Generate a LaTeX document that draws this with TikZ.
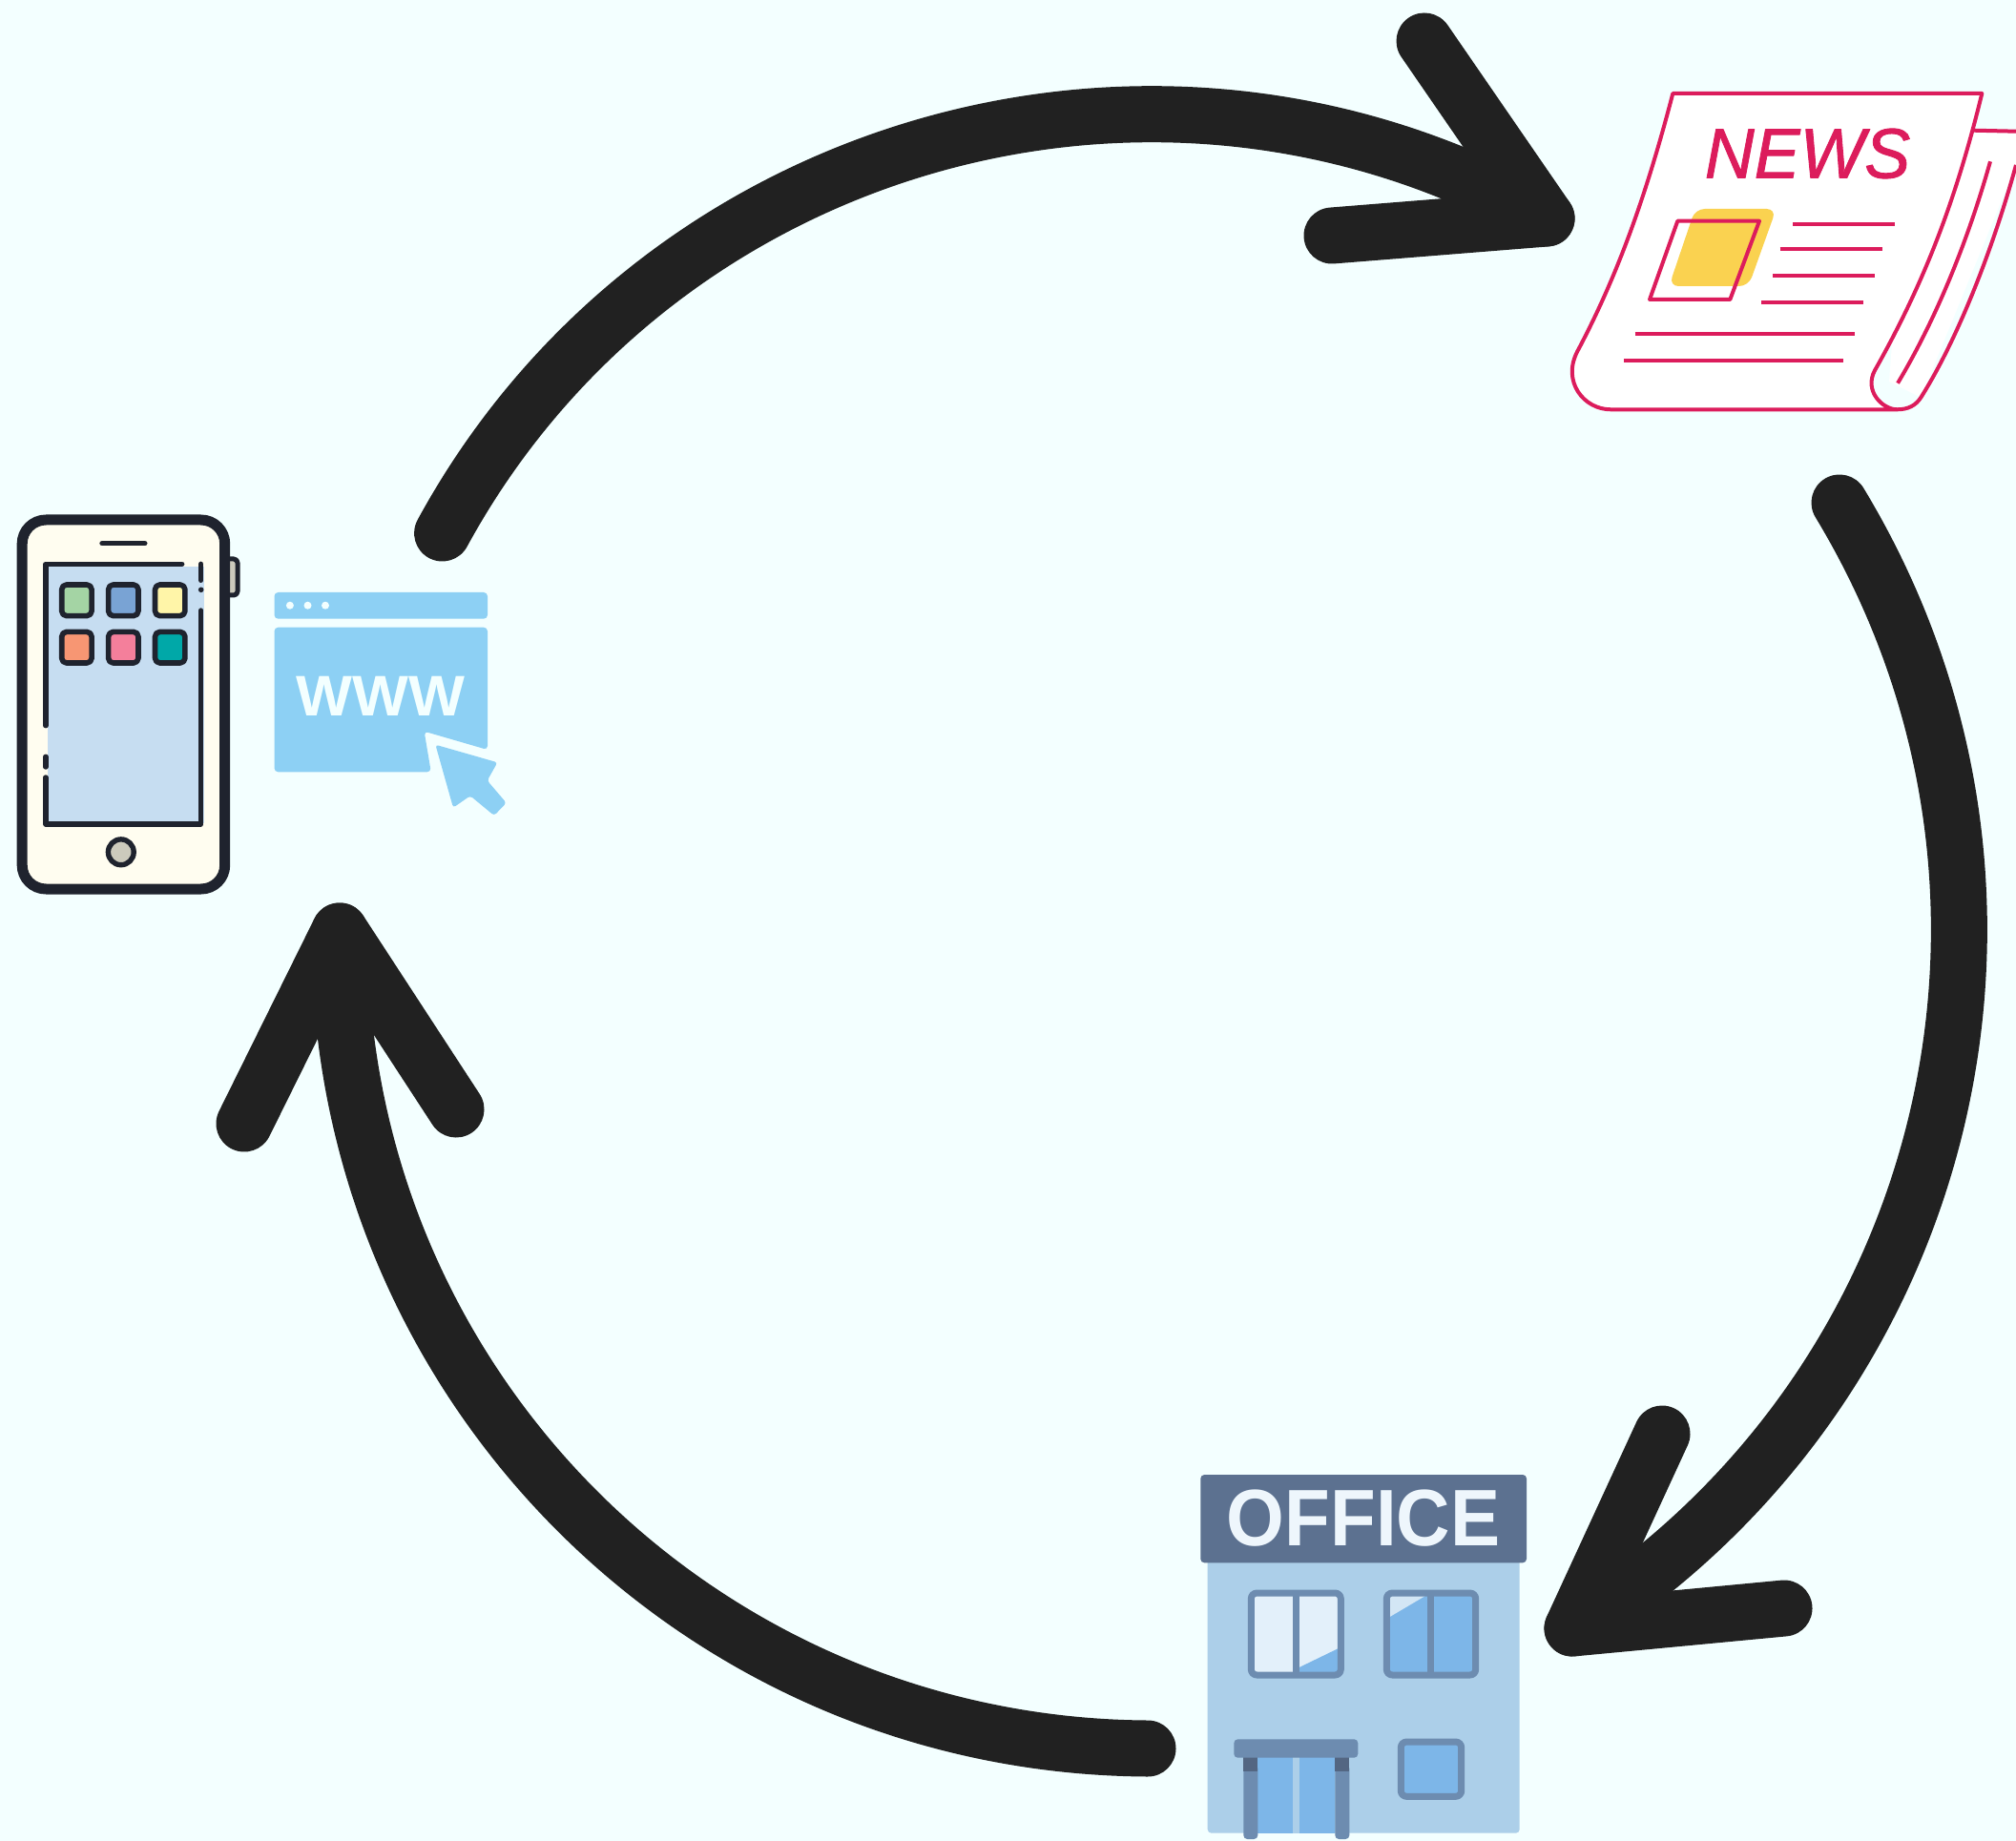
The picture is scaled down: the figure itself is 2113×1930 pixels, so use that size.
\documentclass[tikz,border=0pt]{standalone}
\usepackage{fontspec}
\setmainfont{Liberation Sans}
\definecolor{paperbg}{HTML}{F3FFFF}
\definecolor{arrowink}{HTML}{212121}
\definecolor{phoneink}{HTML}{1F232E}
\definecolor{phonecream}{HTML}{FFFDF0}
\definecolor{phonegrey}{HTML}{CCCABC}
\definecolor{screenblue}{HTML}{C6DDF1}
\definecolor{webblue}{HTML}{8DD0F4}
\definecolor{newsred}{HTML}{DC1C5C}
\definecolor{newsyellow}{HTML}{FAD250}
\definecolor{officeslate}{HTML}{5C7190}
\definecolor{officewall}{HTML}{ACCFE9}
\definecolor{officeframe}{HTML}{6D8CB0}
\definecolor{officeglass}{HTML}{7DB6E8}
\definecolor{officepale}{HTML}{E3F0FA}
\definecolor{appgreen}{HTML}{A4D4A4}
\definecolor{appblue}{HTML}{79A3D4}
\definecolor{appyellow}{HTML}{FFF5A8}
\definecolor{apporange}{HTML}{F79673}
\definecolor{apppink}{HTML}{F47F9B}
\definecolor{appteal}{HTML}{00A8A8}
\newcommand{\pxUnit}[0]{0.5pt}

\begin{document}
\begin{tikzpicture}[x=\pxUnit, y=-\pxUnit, line join=round]
  \tikzset{
    flowline/.style={draw=arrowink,line width=29.5pt,line cap=round},
    phoneline/.style={draw=phoneink,line width=2.7pt,line cap=round},
    newsline/.style={draw=newsred,line width=2pt},
    frameline/.style={draw=officeframe,line width=3.5pt,rounded corners=3pt}
  }
  \useasboundingbox (0,0) rectangle (2113,1930);
  \fill[paperbg] (0,0) rectangle (2113,1930);

  % phone
  \draw[draw=phoneink,fill=phonegrey,line width=2.5pt,rounded corners=2pt] (232,586) rectangle (249,624);
  \draw[draw=phoneink,fill=phonecream,line width=5.5pt,rounded corners=12.5pt] (23.2,545) rectangle (235.7,932);
  \draw[phoneline] (107,569.7) -- (151.8,569.7);
  \fill[screenblue] (50,594) rectangle (213.6,863);
  \draw[phoneline] (190.7,591.3) -- (47.9,591.3) -- (47.9,760.7);
  \draw[phoneline] (47.9,793.3) -- (47.9,804);
  \draw[phoneline] (47.9,815) -- (47.9,864) -- (210.7,864) -- (210.7,640);
  \draw[phoneline] (210.7,591.3) -- (210.7,608.3);
  \fill[phoneink] (210.7,618.3) circle (1.4pt);
  \foreach \x/\y/\col in {80.4/629.3/appgreen,129.3/629.3/appblue,178.2/629.3/appyellow,
                          80.4/678.7/apporange,129.3/678.7/apppink,178.2/678.7/appteal}
    \draw[draw=phoneink,fill=\col,line width=2.8pt,rounded corners=2.5pt]
      (\x-15.7,\y-16.3) rectangle (\x+15.7,\y+16.3);
  \draw[draw=phoneink,fill=phonegrey,line width=2.7pt] (126.8,893.3) circle (6.7pt);

  % browser
  \fill[webblue,rounded corners=2pt] (287.5,621) rectangle (511,648.7);
  \foreach \x in {303.9,322.5,341}
    \fill[paperbg] (\x,634.7) circle (2pt);
  \fill[webblue,rounded corners=2pt] (287.5,657.7) -- (511,657.7) -- (511,786)
    -- (444.6,766.7) -- (451.8,809.3) -- (287.5,809.3) -- cycle;
  \fill[webblue,rounded corners=1.5pt] (456.4,780.7) -- (521.4,799.3) -- (510.7,818.3) -- (530.7,841.7)
    -- (517.9,855) -- (492.9,834.3) -- (475,846.7) -- cycle;
  \node[font=\fontsize{30}{32}\selectfont\bfseries,text=paperbg,inner sep=0pt,xscale=1.04] (webtext) at (399,730) {WWW};

  % newspaper
  \fill[white] (2000,135) -- (2113,137) -- (2113,173) -- (2013.3,416.7) -- (1980,400) -- cycle;
  \draw[newsline] (2068,136.7) -- (2113,137.7);
  \draw[newsline,fill=white] (1753.3,98) -- (2077.3,98) .. controls (2050,210) and (2016.7,296.7) .. (1965,388.3)
    .. controls (1953.3,410) and (1973.3,429.3) .. (1988.3,429.3) -- (1688.3,429.3)
    .. controls (1660,429.3) and (1636.7,400) .. (1653.3,368.3)
    .. controls (1696.7,286.7) and (1726.7,200) .. (1753.3,98) -- cycle;
  \draw[newsline] (1988.3,429.3) .. controls (2000,429.3) and (2008,425) .. (2013.3,416.7)
    .. controls (2053.3,353.3) and (2090,256.7) .. (2113,173);
  \draw[newsline] (2086,169.3) .. controls (2063.3,250) and (2030,333.3) .. (1989,401.7);
  \fill[newsyellow,rounded corners=5pt] (1776.7,219) -- (1861.7,219) -- (1832.7,300) -- (1749.3,300) -- cycle;
  \draw[newsline] (1758.3,231.7) -- (1844,231.7) -- (1813.3,314) -- (1729,314) -- cycle;
  \foreach \y/\a/\b in {235/1879/1985.7,261/1865.7/1972.7,288.7/1858/1965,316.7/1846/1953,350.3/1713.7/1944,378/1702/1932.3}
    \draw[newsline] (\a,\y) -- (\b,\y);
  \node[font=\fontsize{37}{39}\selectfont\itshape\addfontfeature{FakeBold=1.2},text=newsred,inner sep=0pt,xscale=0.97] (newstext) at (1894.5,161) {NEWS};

  % office
  \fill[officewall,rounded corners=2pt] (1265.7,1630) rectangle (1592.7,1921.7);
  \fill[officeslate,rounded corners=2pt] (1258.3,1546) rectangle (1600,1638.3);
  \node[font=\fontsize{42}{44}\selectfont\bfseries,text=officepale!60!white,inner sep=0pt,xscale=0.93] (officetext) at (1429,1592) {OFFICE};
  \fill[officepale] (1311.3,1670) rectangle (1405.3,1756);
  \fill[officeglass] (1361.7,1748) -- (1405,1727) -- (1405,1756) -- (1361.7,1756) -- cycle;
  \draw[frameline] (1311.3,1670) rectangle (1405.3,1756);
  \draw[officeframe,line width=3.5pt] (1358.3,1670) -- (1358.3,1756);
  \fill[officeglass] (1453.3,1670) rectangle (1546.7,1756);
  \fill[officepale!70!officewall] (1453.3,1670) -- (1499,1670) -- (1453.3,1697) -- cycle;
  \draw[frameline] (1453.3,1670) rectangle (1546.7,1756);
  \draw[officeframe,line width=3.5pt] (1499.3,1670) -- (1499.3,1756);
  \fill[officeglass] (1318.3,1842) rectangle (1399.3,1921.7);
  \fill[officewall] (1355,1842) rectangle (1362.3,1921.7);
  \foreach \x in {1303.3,1399.3}{
    \fill[officeframe,rounded corners=2pt] (\x,1850) -- (\x,1928) -- (\x+15,1928) -- (\x+15,1850) -- cycle;
    \fill[officeslate!90!black] (\x,1842) rectangle (\x+15,1857);
  }
  \fill[officeframe,rounded corners=2pt] (1293.3,1823.3) rectangle (1423.3,1842.7);
  \draw[frameline,fill=officeglass] (1468.3,1826) rectangle (1531.7,1883.3);

  % arrows
  \coordinate (webout) at (463.6,559);
  \coordinate (newsin) at (1621,229);
  \coordinate (newsbarba) at (1493,43);
  \coordinate (newsbarbb) at (1396,247);
  \coordinate (newsout) at (1928,527);
  \coordinate (officein) at (1648,1707);
  \coordinate (officebarba) at (1742,1503);
  \coordinate (officebarbb) at (1870,1686);
  \coordinate (officeout) at (1203,1833);
  \coordinate (webin) at (356,976);
  \coordinate (webbarba) at (256,1178);
  \coordinate (webbarbb) at (478,1163);
  \draw[flowline] (webout) to[bend left=45.5] (newsin);
  \draw[flowline] (newsbarba) -- (newsin) -- (newsbarbb);
  \draw[flowline] (newsout) to[bend left=44.5] (officein);
  \draw[flowline] (officebarba) -- (officein) -- (officebarbb);
  \draw[flowline] (officeout) to[bend left=45] (webin);
  \draw[flowline] (webbarba) -- (webin) -- (webbarbb);
\end{tikzpicture}
\end{document}
